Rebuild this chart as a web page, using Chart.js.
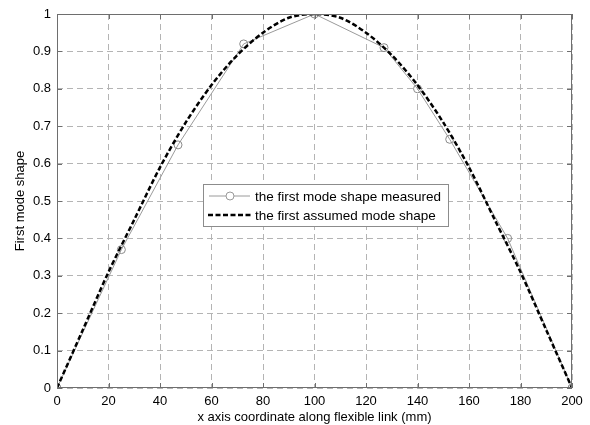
<!DOCTYPE html>
<html>
<head>
<meta charset="utf-8">
<script src="https://cdn.jsdelivr.net/npm/chart.js@4"></script>
<style>
  html, body { margin: 0; padding: 0; background: #fff; }
  #wrap { width: 590px; height: 425px; }
</style>
</head>
<body>
<div id="wrap"><canvas id="modeChart" width="590" height="425"></canvas></div>
<script>
// measured points
const measuredX = [0, 25, 47, 72.5, 100, 127, 140, 152.5, 175, 200];
const measuredY = [0, 0.37, 0.65, 0.92, 1.0, 0.91, 0.80, 0.665, 0.40, 0];

// assumed mode shape, read every 10 mm
const assumedX = [0, 10, 20, 30, 40, 50, 60, 70, 80, 90, 100, 110, 120, 130, 140, 150, 160, 170, 180, 190, 200];
const assumedY = [0, 0.155, 0.31, 0.45, 0.59, 0.71, 0.81, 0.89, 0.95, 0.99, 1.0, 0.99, 0.95, 0.89, 0.81, 0.71, 0.59, 0.45, 0.31, 0.155, 0];

const xTicks = [0, 20, 40, 60, 80, 100, 120, 140, 160, 180, 200];
const yTicks = [0, 0.1, 0.2, 0.3, 0.4, 0.5, 0.6, 0.7, 0.8, 0.9, 1];

const labelMeasured = 'the first mode shape measured';
const labelAssumed = 'the first assumed mode shape';

const FONT = 'Liberation Sans, Arial, Helvetica, sans-serif';

// frame, inward ticks and legend box drawn like the matlab figure
const framePlugin = {
    id: 'frame',
    afterDraw(chart) {
        const { ctx, chartArea: a, scales } = chart;
        ctx.save();
        ctx.strokeStyle = '#6e6e6e';
        ctx.lineWidth = 1;
        ctx.setLineDash([]);
        ctx.strokeRect(a.left + 0.5, a.top + 0.5, a.right - a.left - 1, a.bottom - a.top - 1);
        ctx.beginPath();
        xTicks.forEach(v => {
            const px = Math.round(scales.x.getPixelForValue(v)) + 0.5;
            ctx.moveTo(px, a.bottom); ctx.lineTo(px, a.bottom - 5);
            ctx.moveTo(px, a.top); ctx.lineTo(px, a.top + 5);
        });
        yTicks.forEach(v => {
            const py = Math.round(scales.y.getPixelForValue(v)) + 0.5;
            ctx.moveTo(a.left, py); ctx.lineTo(a.left + 5, py);
            ctx.moveTo(a.right, py); ctx.lineTo(a.right - 5, py);
        });
        ctx.stroke();

        // legend
        const bx = 203, by = 184, bw = 245, bh = 42;
        ctx.fillStyle = '#fff';
        ctx.fillRect(bx, by, bw, bh);
        ctx.strokeStyle = '#8c8c8c';
        ctx.strokeRect(bx + 0.5, by + 0.5, bw, bh);

        ctx.font = '13.5px ' + FONT;
        ctx.fillStyle = '#000';
        ctx.textBaseline = 'middle';

        const r1 = by + 12, r2 = by + 31;
        ctx.strokeStyle = '#9a9a9a';
        ctx.lineWidth = 1;
        ctx.beginPath();
        ctx.moveTo(209, r1); ctx.lineTo(250, r1);
        ctx.stroke();
        ctx.fillStyle = '#fff';
        ctx.beginPath();
        ctx.arc(230, r1, 4, 0, Math.PI * 2);
        ctx.fill();
        ctx.stroke();
        ctx.fillStyle = '#000';
        ctx.fillText(labelMeasured, 255, r1 + 1);

        ctx.strokeStyle = '#000';
        ctx.lineWidth = 2.5;
        ctx.setLineDash([5, 2.5]);
        ctx.beginPath();
        ctx.moveTo(208, r2); ctx.lineTo(251, r2);
        ctx.stroke();
        ctx.setLineDash([]);
        ctx.fillText(labelAssumed, 255, r2 + 1);
        ctx.restore();
    }
};

const ctx = document.getElementById('modeChart').getContext('2d');

const modeChart = new Chart(ctx, {
    type: 'scatter',
    data: {
        datasets: [
            {
                label: labelAssumed,
                data: assumedX.map((x, i) => ({ x: x, y: assumedY[i] })),
                showLine: true,
                borderColor: '#000',
                borderWidth: 2.5,
                borderDash: [5, 2.5],
                pointRadius: 0,
                tension: 0.3,
                order: 0
            },
            {
                label: labelMeasured,
                data: measuredX.map((x, i) => ({ x: x, y: measuredY[i] })),
                showLine: true,
                borderColor: '#9a9a9a',
                borderWidth: 1,
                pointRadius: 4,
                pointBorderColor: '#8a8a8a',
                pointBackgroundColor: 'rgba(255,255,255,0)',
                pointBorderWidth: 1,
                tension: 0,
                order: 1
            }
        ]
    },
    options: {
        responsive: false,
        animation: false,
        devicePixelRatio: 1,
        layout: { padding: { top: 14, right: 18, left: 0, bottom: 0 } },
        plugins: {
            legend: { display: false },
            tooltip: { enabled: false }
        },
        scales: {
            x: {
                type: 'linear',
                min: 0,
                max: 200,
                afterBuildTicks: axis => { axis.ticks = xTicks.map(v => ({ value: v })); },
                afterFit: axis => { axis.height = 37; },
                grid: { color: '#b4b4b4', drawTicks: false, lineWidth: 1 },
                border: { display: false, dash: [6, 4] },
                ticks: { color: '#000', font: { family: FONT, size: 13 }, padding: 6, maxRotation: 0 },
                title: {
                    display: true,
                    text: 'x axis coordinate along flexible link (mm)',
                    color: '#000',
                    font: { family: FONT, size: 13 },
                    padding: { top: 0, bottom: 0 }
                }
            },
            y: {
                type: 'linear',
                min: 0,
                max: 1,
                afterBuildTicks: axis => { axis.ticks = yTicks.map(v => ({ value: v })); },
                afterFit: axis => { axis.width = 57; },
                grid: { color: '#b4b4b4', drawTicks: false, lineWidth: 1 },
                border: { display: false, dash: [6, 4] },
                ticks: {
                    color: '#000',
                    font: { family: FONT, size: 13 },
                    padding: 6,
                    callback: v => String(Number(v.toFixed(1)))
                },
                title: {
                    display: true,
                    text: 'First mode shape',
                    color: '#000',
                    font: { family: FONT, size: 13 },
                    padding: { top: 13, bottom: 0 }
                }
            }
        }
    },
    plugins: [framePlugin]
});
</script>
</body>
</html>
